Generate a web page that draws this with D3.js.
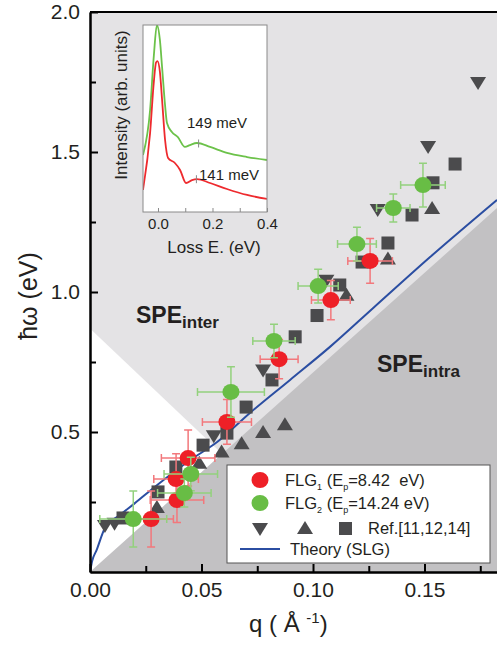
<!DOCTYPE html>
<html>
<head>
<meta charset="utf-8">
<script src="https://cdn.jsdelivr.net/npm/d3@7"></script>
<style>
  body { margin: 0; background: #fff; }
  text { font-family: "Liberation Sans", Arial, sans-serif; fill: #231f20; }
</style>
</head>
<body>
<svg id="chart"></svg>
<script>
// plasmon dispersion of few layer graphene

// FLG1 (Ep = 8.42 eV), red
const flg1Q    = [0.0274, 0.0390, 0.0386, 0.0440, 0.0614, 0.0848, 0.1080, 0.1256];
const flg1W    = [0.189, 0.257, 0.332, 0.407, 0.536, 0.760, 0.971, 1.111];
const flg1QErr = [0.010, 0.012, 0.010, 0.012, 0.011, 0.0085, 0.0087, 0.010];
const flg1WErr = [0.10, 0.08, 0.09, 0.10, 0.08, 0.07, 0.07, 0.08];

// FLG2 (Ep = 14.24 eV), green
const flg2Q    = [0.0194, 0.0423, 0.0452, 0.0632, 0.0825, 0.1023, 0.1197, 0.1360, 0.1493];
const flg2W    = [0.189, 0.282, 0.350, 0.643, 0.825, 1.021, 1.171, 1.300, 1.382];
const flg2QErr = [0.015, 0.012, 0.012, 0.015, 0.0095, 0.009, 0.0087, 0.0075, 0.010];
const flg2WErr = [0.10, 0.05, 0.06, 0.09, 0.06, 0.06, 0.06, 0.05, 0.078];

// Ref.[11,12,14]
const refDownQ = [0.0067, 0.0110, 0.0555, 0.0776, 0.1060, 0.1290, 0.1516, 0.1740];
const refDownW = [0.164, 0.172, 0.485, 0.720, 1.040, 1.293, 1.518, 1.746];
const refUpQ   = [0.0300, 0.0490, 0.0590, 0.0680, 0.0776, 0.0874, 0.1150, 0.1336, 0.1534];
const refUpW   = [0.232, 0.390, 0.430, 0.460, 0.500, 0.528, 0.990, 1.120, 1.300];
const refSqQ   = [0.0148, 0.0305, 0.0385, 0.0507, 0.0614, 0.0700, 0.0816, 0.0920, 0.1018,
                  0.1120, 0.1220, 0.1336, 0.1444, 0.1538, 0.1637];
const refSqW   = [0.193, 0.286, 0.375, 0.453, 0.496, 0.589, 0.686, 0.840, 0.916,
                  1.025, 1.107, 1.175, 1.275, 1.390, 1.457];

// theory (SLG)
const theoryQ = [0, 0.001, 0.003, 0.0067, 0.0135, 0.020, 0.030, 0.045, 0.057, 0.0717,
                 0.0897, 0.1076, 0.127, 0.1525, 0.1825];
const theoryW = [0, 0.040, 0.079, 0.157, 0.204, 0.245, 0.310, 0.400, 0.464, 0.568,
                 0.686, 0.804, 0.943, 1.125, 1.329];

// single particle excitation region edges (q, hw)
const intraEdgeQ = [0, 0.1825];
const intraEdgeW = [0, 1.30];
const interEdgeQ = [0, 0.0592];
const interEdgeW = [0.87, 0.422];

// inset EELS spectra
const lossE     = [-0.055, -0.029, -0.015, -0.004, 0.007, 0.015, 0.026, 0.033, 0.051, 0.073,
                   0.099, 0.117, 0.143, 0.191, 0.253, 0.327, 0.4];
const greenSpec = [0.305, 0.545, 0.84, 1.0, 0.92, 0.775, 0.57, 0.476, 0.428, 0.40,
                   0.348, 0.358, 0.369, 0.348, 0.316, 0.294, 0.278];
const redLossE  = [-0.055, -0.029, -0.015, -0.007, -0.002, 0.007, 0.015, 0.026, 0.037, 0.062,
                   0.081, 0.103, 0.125, 0.143, 0.191, 0.253, 0.327, 0.4];
const redSpec   = [0.118, 0.422, 0.70, 0.80, 0.807, 0.75, 0.60, 0.385, 0.289, 0.262,
                   0.225, 0.155, 0.171, 0.176, 0.155, 0.123, 0.091, 0.070];
const peakLabels = ["149 meV", "141 meV"];
const peakE = [0.149, 0.141];

const xTicks = [0, 0.05, 0.10, 0.15];
const xMinor = [0.025, 0.075, 0.125, 0.175];
const yTicks = [0.5, 1.0, 1.5, 2.0];
const yMinor = [0.25, 0.75, 1.25, 1.75];
const insetTicks = [0, 0.1, 0.2, 0.3, 0.4];
const insetLabels = [0, 0.2, 0.4];

const width = 497;
const height = 649;

const margin = { top: 12, bottom: 77, left: 90, right: 0 };
const plotWidth = width - margin.left - margin.right;
const plotHeight = height - margin.top - margin.bottom;

const red = "#ee2027";
const green = "#68bd45";
const grayMark = "#4b4b4d";

const svg = d3.select("#chart").attr("width", width).attr("height", height);

const xScale = d3.scaleLinear().domain([0, 0.1825]).range([0, plotWidth]);
const yScale = d3.scaleLinear().domain([0, 2]).range([plotHeight, 0]);

const plot = svg.append("g").attr("transform", translate(margin.left, margin.top));

svg.append("defs").append("clipPath").attr("id", "plot-clip")
  .append("rect").attr("width", plotWidth).attr("height", plotHeight);

const inner = plot.append("g").attr("clip-path", "url(#plot-clip)");

drawRegions();
drawTheory();
drawRef();
drawSeries(flg1Q, flg1W, flg1QErr, flg1WErr, red, "#f2787c");
drawSeries(flg2Q, flg2W, flg2QErr, flg2WErr, green, "#93d17d");
drawAxis();
drawInset();
drawLegend();
drawTitles();

function translate(x, y) {
  return "translate(" + String(x) + "," + String(y) + ")";
}

function pts(qs, ws) {
  return qs.map((q, i) => [xScale(q), yScale(ws[i])]);
}

function drawRegions() {
  inner.append("rect")
    .attr("width", plotWidth).attr("height", plotHeight)
    .attr("fill", "#e4e3e5");

  // white gap between intra and inter band continua
  let white = [[0, 0], [0, interEdgeW[0]], [interEdgeQ[1], interEdgeW[1]]];
  inner.append("path")
    .attr("d", d3.line()(white.map(d => [xScale(d[0]), yScale(d[1])])) + "Z")
    .attr("fill", "#ffffff");

  let dark = pts(intraEdgeQ, intraEdgeW);
  dark.push([xScale(intraEdgeQ[1]), yScale(0)]);
  inner.append("path")
    .attr("d", d3.line()(dark) + "Z")
    .attr("fill", "#c2c1c3");
}

function drawTheory() {
  let line = d3.line().curve(d3.curveMonotoneX);
  inner.append("path")
    .attr("d", line(pts(theoryQ, theoryW)))
    .attr("fill", "none")
    .attr("stroke", "#2b4ea2")
    .attr("stroke-width", 2);
}

function triangle(up) {
  let s = up ? "M0,-7L8,6L-8,6Z" : "M0,7L8,-6L-8,-6Z";
  return s;
}

function drawRef() {
  let g = inner.append("g").attr("id", "ref").attr("fill", grayMark);

  g.selectAll("path.down")
    .data(d3.zip(refDownQ, refDownW))
    .enter().append("path")
    .attr("class", "down")
    .attr("d", triangle(false))
    .attr("transform", d => translate(xScale(d[0]), yScale(d[1])));

  g.selectAll("path.up")
    .data(d3.zip(refUpQ, refUpW))
    .enter().append("path")
    .attr("class", "up")
    .attr("d", triangle(true))
    .attr("transform", d => translate(xScale(d[0]), yScale(d[1])));

  g.selectAll("rect")
    .data(d3.zip(refSqQ, refSqW))
    .enter().append("rect")
    .attr("x", d => xScale(d[0]) - 6.5)
    .attr("y", d => yScale(d[1]) - 6.5)
    .attr("width", 13)
    .attr("height", 13);
}

function drawSeries(qs, ws, qe, we, color, errColor) {
  let data = qs.map((q, i) => ({ q: q, w: ws[i], qe: qe[i], we: we[i] }));
  let g = inner.append("g");
  let cap = 4;

  let err = g.append("g")
    .attr("stroke", errColor)
    .attr("stroke-width", 1.5)
    .attr("fill", "none");

  data.forEach(d => {
    let cx = xScale(d.q), cy = yScale(d.w);
    let x0 = xScale(d.q - d.qe), x1 = xScale(d.q + d.qe);
    let y0 = yScale(d.w - d.we), y1 = yScale(d.w + d.we);
    let p = "M" + x0 + "," + cy + "H" + x1 +
      "M" + x0 + "," + (cy - cap) + "V" + (cy + cap) +
      "M" + x1 + "," + (cy - cap) + "V" + (cy + cap) +
      "M" + cx + "," + y0 + "V" + y1 +
      "M" + (cx - cap) + "," + y0 + "H" + (cx + cap) +
      "M" + (cx - cap) + "," + y1 + "H" + (cx + cap);
    err.append("path").attr("d", p);
  });

  g.selectAll("ellipse")
    .data(data)
    .enter().append("ellipse")
    .attr("cx", d => xScale(d.q))
    .attr("cy", d => yScale(d.w))
    .attr("rx", 8.5)
    .attr("ry", 8)
    .attr("fill", color);
}

function drawAxis() {
  let yAxis = d3.axisLeft(yScale).tickValues(yTicks).tickSize(-8).tickSizeOuter(0)
    .tickPadding(10).tickFormat(d3.format(".1f"));
  let yMinorAxis = d3.axisLeft(yScale).tickValues(yMinor).tickSize(-6).tickSizeOuter(0)
    .tickFormat("");
  let xAxis = d3.axisBottom(xScale).tickValues(xTicks).tickSize(-8).tickSizeOuter(0)
    .tickPadding(10).tickFormat(d3.format(".2f"));
  let xMinorAxis = d3.axisBottom(xScale).tickValues(xMinor).tickSize(-6).tickSizeOuter(0)
    .tickFormat("");

  let axes = [
    plot.append("g").call(yMinorAxis),
    plot.append("g").call(yAxis),
    plot.append("g").attr("transform", translate(0, plotHeight)).call(xMinorAxis),
    plot.append("g").attr("transform", translate(0, plotHeight)).call(xAxis)
  ];
  axes.forEach(a => {
    a.selectAll("line").attr("stroke", "#000").attr("stroke-width", 2);
    a.select("path.domain").attr("stroke", "#000").attr("stroke-width", 2);
    a.selectAll("text")
      .attr("font-size", 21)
      .attr("font-family", "Liberation Sans, Arial, sans-serif")
      .attr("fill", "#231f20");
  });

  // frame line on top
  plot.append("line")
    .attr("x1", 0).attr("x2", plotWidth)
    .attr("y1", 0).attr("y2", 0)
    .attr("stroke", "#000").attr("stroke-width", 2);
}

function drawInset() {
  let left = 143, right = 267, top = 25, bottom = 212;
  let ix = d3.scaleLinear().domain([-0.055, 0.4]).range([left, right]);
  let iy = d3.scaleLinear().domain([0, 1]).range([bottom, top]);

  let g = svg.append("g").attr("id", "inset");

  g.append("rect")
    .attr("x", left).attr("y", top)
    .attr("width", right - left).attr("height", bottom - top)
    .attr("fill", "#fff");

  g.append("defs").append("clipPath").attr("id", "inset-clip")
    .append("rect").attr("x", left).attr("y", top)
    .attr("width", right - left).attr("height", bottom - top);

  let curves = g.append("g").attr("clip-path", "url(#inset-clip)");
  let line = d3.line().curve(d3.curveMonotoneX);

  curves.append("path")
    .attr("d", line(lossE.map((e, i) => [ix(e), iy(greenSpec[i])])))
    .attr("fill", "none").attr("stroke", "#6cc24a").attr("stroke-width", 1.8);

  curves.append("path")
    .attr("d", line(redLossE.map((e, i) => [ix(e), iy(redSpec[i])])))
    .attr("fill", "none").attr("stroke", "#ee2a2e").attr("stroke-width", 1.8);

  // peak markers
  let peakI = [
    d3.scaleLinear().domain(lossE).range(greenSpec)(peakE[0]),
    d3.scaleLinear().domain(redLossE).range(redSpec)(peakE[1])
  ];
  peakE.forEach((e, i) => {
    g.append("line")
      .attr("x1", ix(e)).attr("x2", ix(e))
      .attr("y1", iy(peakI[i]) - 4).attr("y2", iy(peakI[i]) + 4)
      .attr("stroke", "#888").attr("stroke-width", 1);
  });

  g.append("text").attr("x", 187).attr("y", 128).attr("font-size", 15)
    .text(peakLabels[0]);
  g.append("text").attr("x", 199).attr("y", 180).attr("font-size", 15)
    .text(peakLabels[1]);

  g.append("rect")
    .attr("x", left).attr("y", top)
    .attr("width", right - left).attr("height", bottom - top)
    .attr("fill", "none").attr("stroke", "#8a8a8a").attr("stroke-width", 1);

  let axis = d3.axisBottom(ix).tickValues(insetTicks).tickSize(-4).tickSizeOuter(0)
    .tickFormat(d => insetLabels.includes(d) ? d3.format(".1f")(d) : "")
    .tickPadding(6);
  let ag = g.append("g").attr("transform", translate(0, bottom)).call(axis);
  ag.select("path.domain").remove();
  ag.selectAll("line").attr("stroke", "#8a8a8a");
  ag.selectAll("text").attr("font-size", 15)
    .attr("font-family", "Liberation Sans, Arial, sans-serif").attr("fill", "#231f20");

  g.append("text")
    .attr("x", 214).attr("y", 253)
    .attr("text-anchor", "middle")
    .attr("font-size", 17)
    .text("Loss E. (eV)");

  g.append("text")
    .attr("transform", translate(127, 105) + " rotate(-90)")
    .attr("text-anchor", "middle")
    .attr("font-size", 17)
    .text("Intensity (arb. units)");
}

function drawLegend() {
  let legend = svg.append("g").attr("id", "legend").attr("transform", translate(227, 465));

  legend.append("rect")
    .attr("width", 263).attr("height", 98)
    .attr("fill", "#fff").attr("stroke", "#555").attr("stroke-width", 1);

  legend.append("ellipse").attr("cx", 33).attr("cy", 15).attr("rx", 8.5).attr("ry", 8).attr("fill", red);
  legend.append("ellipse").attr("cx", 33).attr("cy", 38).attr("rx", 8.5).attr("ry", 8).attr("fill", green);

  let t1 = legend.append("text").attr("x", 58).attr("y", 21).attr("font-size", 16.5);
  t1.append("tspan").text("FLG");
  t1.append("tspan").attr("font-size", 9).attr("dy", 4).text("1");
  t1.append("tspan").attr("dy", -4).text(" (E");
  t1.append("tspan").attr("font-size", 9).attr("dy", 4).text("p");
  t1.append("tspan").attr("dy", -4).text("=8.42\u00a0\u00a0eV)");

  let t2 = legend.append("text").attr("x", 58).attr("y", 44).attr("font-size", 16.5);
  t2.append("tspan").text("FLG");
  t2.append("tspan").attr("font-size", 9).attr("dy", 4).text("2");
  t2.append("tspan").attr("dy", -4).text(" (E");
  t2.append("tspan").attr("font-size", 9).attr("dy", 4).text("p");
  t2.append("tspan").attr("dy", -4).text("=14.24 eV)");

  legend.append("path").attr("d", triangle(false))
    .attr("transform", translate(33, 64)).attr("fill", grayMark);
  legend.append("path").attr("d", triangle(true))
    .attr("transform", translate(78, 63)).attr("fill", grayMark);
  legend.append("rect").attr("x", 112).attr("y", 57).attr("width", 13).attr("height", 13)
    .attr("fill", grayMark);
  legend.append("text").attr("x", 141).attr("y", 69).attr("font-size", 16.5)
    .text("Ref.[11,12,14]");

  legend.append("line").attr("x1", 13).attr("x2", 53).attr("y1", 84).attr("y2", 84)
    .attr("stroke", "#2b4ea2").attr("stroke-width", 2);
  legend.append("text").attr("x", 63).attr("y", 90).attr("font-size", 16.5)
    .text("Theory (SLG)");
}

function drawTitles() {
  // x title with superscript
  let xt = svg.append("text").attr("x", 249).attr("y", 632).attr("font-size", 24);
  xt.append("tspan").text("q ( \u00c5 ");
  xt.append("tspan").attr("font-size", 15).attr("dy", -9).text("-1");
  xt.append("tspan").attr("dy", 9).text(")");

  svg.append("text")
    .attr("transform", translate(37, 296) + " rotate(-90)")
    .attr("text-anchor", "middle")
    .attr("font-size", 25)
    .text("\u0127\u03c9 (eV)");

  let s1 = svg.append("text").attr("x", 136).attr("y", 323)
    .attr("font-size", 23).attr("font-weight", "bold");
  s1.append("tspan").text("SPE");
  s1.append("tspan").attr("font-size", 17).attr("dy", 5).text("inter");

  let s2 = svg.append("text").attr("x", 377).attr("y", 372)
    .attr("font-size", 23).attr("font-weight", "bold");
  s2.append("tspan").text("SPE");
  s2.append("tspan").attr("font-size", 17).attr("dy", 5).text("intra");
}
</script>
</body>
</html>
